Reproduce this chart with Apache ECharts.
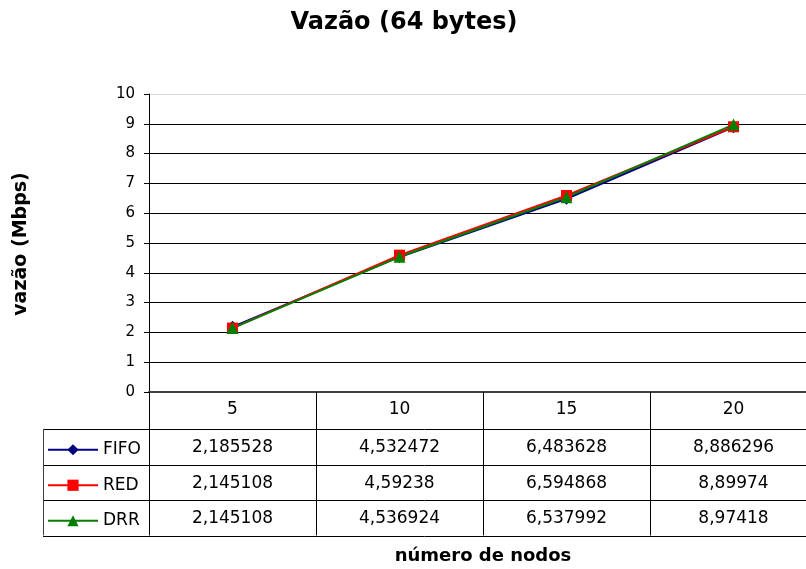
<!DOCTYPE html>
<html>
<head>
<meta charset="utf-8">
<script src="https://cdn.jsdelivr.net/npm/echarts@6/dist/echarts.min.js"></script>
<style>
  html, body { margin: 0; padding: 0; background: #fff; }
  #chart { width: 806px; height: 569px; }
</style>
</head>
<body>
<div id="chart"></div>
<script>
  const categories = ['5', '10', '15', '20'];
  const fifo = [2.185528, 4.532472, 6.483628, 8.886296];
  const red = [2.145108, 4.59238, 6.594868, 8.89974];
  const drr = [2.145108, 4.536924, 6.537992, 8.97418];
  const yMin = 0;
  const yMax = 10;
  const yStep = 1;

  const FONT = '"DejaVu Sans", sans-serif';
  const headH = 37;
  const rowH = 35.5;
  const tableLeft = 43;

  const seriesDefs = [
    { name: 'FIFO', data: fifo, color: '#000080', symbol: 'diamond', size: 12 },
    { name: 'RED', data: red, color: '#ff0000', symbol: 'rect', size: 11 },
    { name: 'DRR', data: drr, color: '#008000', symbol: 'triangle', size: 12 },
  ];

  const chart = echarts.init(document.getElementById('chart'));

  const splitColors = [];
  for (let v = yMin; v <= yMax; v += yStep) splitColors.push(v === yMax ? '#d9d9d9' : '#000');

  chart.setOption({
    animation: false,
    grid: { left: 149, top: 94, width: 668, bottom: 177, outerBoundsMode: 'none', containLabel: false },
    xAxis: {
      type: 'category',
      data: categories,
      boundaryGap: true,
      axisLine: { lineStyle: { color: '#404040', width: 2 } },
      axisTick: { show: true, alignWithLabel: false, length: headH + rowH * seriesDefs.length, lineStyle: { color: '#000', width: 1 } },
      axisLabel: { color: '#000', fontSize: 17, fontFamily: FONT, margin: 9 },
      splitLine: { show: false },
    },
    yAxis: {
      type: 'value',
      min: yMin,
      max: yMax,
      interval: yStep,
      axisLine: { show: true, lineStyle: { color: '#000', width: 1 } },
      axisTick: { show: true, length: 5, lineStyle: { color: '#000' } },
      axisLabel: { color: '#000', fontSize: 15, fontFamily: FONT, margin: 14 },
      splitLine: { show: true, lineStyle: { color: splitColors, width: 1 } },
    },
    legend: {
      orient: 'vertical',
      left: 42,
      top: 392 + headH + rowH / 2 - 12,
      itemWidth: 50,
      itemHeight: 14,
      itemGap: rowH - 20,
      selectedMode: false,
      textStyle: { color: '#000', fontSize: 17, fontFamily: FONT, lineHeight: 20 },
      data: seriesDefs.map(s => s.name),
    },
    series: seriesDefs.map(s => ({
      name: s.name,
      type: 'line',
      data: s.data,
      symbol: s.symbol,
      symbolSize: s.size,
      showSymbol: true,
      lineStyle: { color: s.color, width: 2 },
      itemStyle: { color: s.color },
    })),
  });

  // tabela de dados abaixo do eixo
  function drawTable() {
    const y0 = chart.convertToPixel({ yAxisIndex: 0 }, yMin);
    const xs = categories.map(c => chart.convertToPixel({ xAxisIndex: 0 }, c));
    const bottom = y0 + headH + rowH * seriesDefs.length;
    const right = 806;
    const elements = [];

    for (let r = 0; r <= seriesDefs.length; r++) {
      const y = Math.round(y0 + headH + r * rowH) + 0.5;
      elements.push({
        type: 'line',
        shape: { x1: tableLeft, y1: y, x2: right, y2: y },
        style: { stroke: '#000', lineWidth: 1 },
      });
    }
    elements.push({
      type: 'line',
      shape: { x1: tableLeft + 0.5, y1: y0 + headH, x2: tableLeft + 0.5, y2: bottom },
      style: { stroke: '#404040', lineWidth: 1 },
    });

    seriesDefs.forEach((s, r) => {
      const cy = y0 + headH + r * rowH + rowH / 2 + 1;
      s.data.forEach((v, i) => {
        elements.push({
          type: 'text',
          style: {
            text: String(v).replace('.', ','),
            x: xs[i], y: cy,
            align: 'center', verticalAlign: 'middle',
            fontSize: 17, fontFamily: FONT, fill: '#000',
          },
        });
      });
    });

    elements.push({
      type: 'text',
      style: { text: 'Vazão (64 bytes)', x: 404, y: 23, align: 'center', verticalAlign: 'middle',
        fontSize: 24, fontWeight: 'bold', fontFamily: FONT, fill: '#000' },
    });
    elements.push({
      type: 'text',
      x: 21, y: 244, rotation: Math.PI / 2,
      style: { text: 'vazão (Mbps)', x: 0, y: 0, align: 'center', verticalAlign: 'middle',
        fontSize: 19, fontWeight: 'bold', fontFamily: FONT, fill: '#000' },
    });
    elements.push({
      type: 'text',
      style: { text: 'número de nodos', x: 483, y: 556, align: 'center', verticalAlign: 'middle',
        fontSize: 18, fontWeight: 'bold', fontFamily: FONT, fill: '#000' },
    });

    chart.setOption({ graphic: elements });
  }

  drawTable();
</script>
</body>
</html>
